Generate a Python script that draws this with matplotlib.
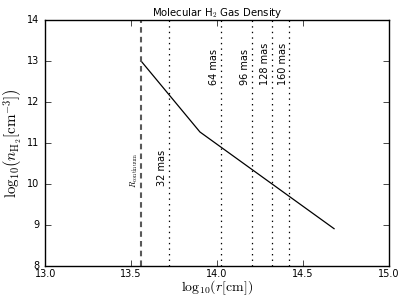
import numpy as np
import matplotlib
matplotlib.use('Agg')
import matplotlib.pyplot as plt

# density profile (log10 r [cm], log10 n_H2 [cm^-3])
log_r = [13.558, 13.90, 14.68]
log_n = [13.0, 11.27, 8.91]

r_continuum = 13.558
ring_labels = ['32 mas', '64 mas', '96 mas', '128 mas', '160 mas']
ring_pos = [13.72, 14.02, 14.20, 14.32, 14.42]
ring_text_y = [9.95, 12.42, 12.42, 12.42, 12.42]

plt.style.use('classic')
fig = plt.figure(figsize=(4.07, 3.05), dpi=100, facecolor='white')
ax = fig.add_axes([0.111, 0.128, 0.845, 0.806])

ax.plot(log_r, log_n, color='k', lw=0.9)
ax.axvline(r_continuum, color='0.35', ls='--', lw=1.5, dashes=(4, 3))
ax.text(r_continuum - 0.005, 9.9, r'$R_{\rm continuum}$', rotation=90,
        ha='right', va='bottom', fontsize=6)
for x, lab, ty in zip(ring_pos, ring_labels, ring_text_y):
    ax.axvline(x, color='k', ls=':', lw=0.9)
    ax.text(x - 0.01, ty, lab, rotation=90, ha='right', va='bottom', fontsize=7)

ax.set_xlim(13, 15)
ax.set_ylim(8, 14)
ax.set_xticks([13.0, 13.5, 14.0, 14.5, 15.0])
ax.tick_params(labelsize=7, length=4)
ax.tick_params(axis='x', pad=2)
ax.set_xlabel(r'$\mathrm{log}_{10}(r[\rm cm])$', fontsize=10, labelpad=0)
ax.set_ylabel(r'$\mathrm{log}_{10}\left(n_{\rm H_2}[\rm cm^{-3}]\right)$', fontsize=10.8, labelpad=2)
ax.set_title(r'Molecular H$_2$ Gas Density', fontsize=7.3, pad=3)

fig.savefig('out.png', dpi=100, facecolor='white')
